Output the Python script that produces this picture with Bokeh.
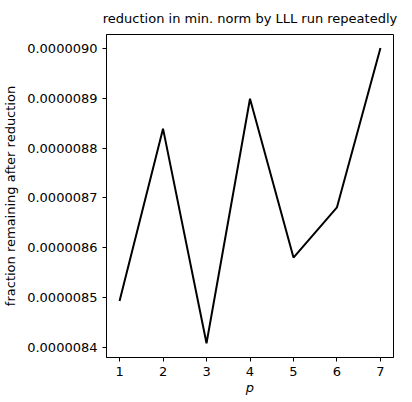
from bokeh.plotting import figure
from bokeh.models import FixedTicker, PrintfTickFormatter, Range1d
from bokeh.embed import file_html
from bokeh.resources import INLINE

p_values = [1, 2, 3, 4, 5, 6, 7]
fraction = [8.493e-6, 8.839e-6, 8.408e-6, 8.899e-6, 8.580e-6, 8.681e-6, 9.001e-6]
y_ticks = [8.4e-6, 8.5e-6, 8.6e-6, 8.7e-6, 8.8e-6, 8.9e-6, 9.0e-6]
x_ticks = [1, 2, 3, 4, 5, 6, 7]

FONT = "DejaVu Sans"

p = figure(frame_width=287, frame_height=323, output_backend="svg", toolbar_location=None,
           title="reduction in min. norm by LLL run repeatedly",
           x_range=Range1d(0.7, 7.3), y_range=Range1d(8.3793e-6, 9.0281e-6),
           min_border_left=106, min_border_right=6, min_border_top=29, min_border_bottom=36)

p.line(p_values, fraction, line_color="black", line_width=2)

p.title.align = "center"
p.title.text_font = FONT
p.title.text_font_size = "13px"
p.title.text_font_style = "normal"
p.title.text_color = "black"
p.title.standoff = 17

p.xgrid.visible = False
p.ygrid.visible = False
p.outline_line_color = "black"
p.outline_line_width = 1
p.outline_line_alpha = 1

p.xaxis.ticker = FixedTicker(ticks=x_ticks)
p.yaxis.ticker = FixedTicker(ticks=y_ticks)
p.yaxis.formatter = PrintfTickFormatter(format="%.7f")
p.xaxis.axis_label = "p"
p.yaxis.axis_label = "fraction remaining after reduction"

for ax in (p.xaxis, p.yaxis):
    ax.axis_line_color = "black"
    ax.major_tick_line_color = "black"
    ax.major_tick_out = 4
    ax.major_tick_in = 0
    ax.minor_tick_line_color = None
    ax.major_label_text_font = FONT
    ax.major_label_text_font_size = "13px"
    ax.major_label_text_color = "black"
    ax.axis_label_text_font = FONT
    ax.axis_label_text_font_size = "13px"
    ax.axis_label_text_color = "black"
    ax.major_label_standoff = 5
p.xaxis.axis_label_text_font_style = "italic"
p.yaxis.axis_label_text_font_style = "normal"
p.xaxis.axis_label_standoff = 1
p.yaxis.axis_label_standoff = 6

open("out.html", "w").write(file_html(p, INLINE))
